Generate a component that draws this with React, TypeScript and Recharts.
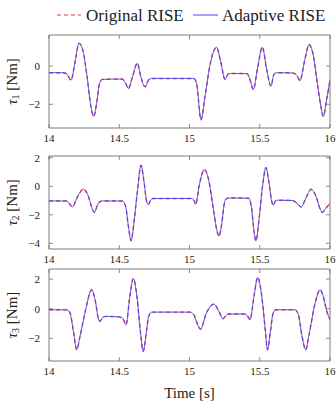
import React from "react";
import { LineChart, Line, XAxis, YAxis, ReferenceArea } from "recharts";

const timeTicks = [14, 14.5, 15, 15.5, 16];

const t1 = [14.0, 14.1, 14.125, 14.157, 14.185, 14.214, 14.24, 14.27, 14.3, 14.318, 14.34, 14.36, 14.38, 14.52, 14.545, 14.565, 14.595, 14.628, 14.655, 14.683, 14.71, 14.73, 15.03, 15.05, 15.082, 15.11, 15.15, 15.193, 15.22, 15.253, 15.275, 15.29, 15.41, 15.43, 15.454, 15.485, 15.518, 15.55, 15.58, 15.6, 15.62, 15.74, 15.765, 15.786, 15.82, 15.851, 15.88, 15.91, 15.935, 15.952, 15.975, 16.0];
const tau1 = [-0.35, -0.35, -0.4, -0.74, 0.2, 1.19, 0.85, -0.5, -2.2, -2.63, -1.9, -0.9, -0.7, -0.68, -0.9, -1.18, -0.55, 0.14, -0.6, -1.09, -0.72, -0.65, -0.65, -0.9, -2.81, -1.6, 0.2, 0.98, 0.3, -0.7, -0.42, -0.39, -0.4, -0.7, -1.23, -0.1, 0.98, -0.2, -1.05, -0.45, -0.35, -0.37, -0.5, -0.77, 0.3, 1.12, 0.6, -0.9, -2.1, -2.63, -1.8, -0.74];

const t2 = [14.0, 14.12, 14.14, 14.166, 14.2, 14.244, 14.28, 14.305, 14.323, 14.35, 14.38, 14.52, 14.545, 14.565, 14.584, 14.605, 14.63, 14.655, 14.675, 14.695, 14.707, 14.725, 14.74, 15.02, 15.032, 15.044, 15.07, 15.106, 15.135, 15.17, 15.195, 15.21, 15.23, 15.25, 15.265, 15.28, 15.42, 15.44, 15.46, 15.473, 15.495, 15.52, 15.544, 15.565, 15.585, 15.597, 15.61, 15.625, 15.73, 15.76, 15.794, 15.83, 15.865, 15.9, 15.93, 15.945, 15.97, 16.0];
const tau2 = [-1.03, -1.03, -1.15, -1.45, -0.8, -0.21, -0.7, -1.5, -1.84, -1.2, -1.03, -1.03, -1.4, -2.8, -3.82, -2.5, -0.3, 1.47, 0.4, -1.05, -1.28, -0.95, -0.86, -0.86, -1.0, -1.26, 0.1, 1.17, 0.5, -1.6, -3.1, -3.5, -2.6, -1.1, -0.85, -0.82, -0.84, -1.4, -3.2, -3.82, -2.3, 0.0, 1.31, 0.3, -1.05, -1.33, -1.05, -0.98, -1.0, -1.15, -1.45, -0.8, -0.21, -0.7, -1.6, -1.84, -1.55, -1.21];

const t3 = [14.0, 14.13, 14.15, 14.175, 14.197, 14.22, 14.26, 14.304, 14.33, 14.352, 14.363, 14.38, 14.4, 14.5, 14.525, 14.548, 14.575, 14.6, 14.625, 14.65, 14.671, 14.69, 14.71, 14.73, 15.0, 15.03, 15.055, 15.078, 15.12, 15.174, 15.21, 15.239, 15.265, 15.28, 15.39, 15.41, 15.431, 15.46, 15.485, 15.515, 15.54, 15.555, 15.575, 15.595, 15.615, 15.75, 15.775, 15.8, 15.827, 15.85, 15.89, 15.929, 15.95, 15.975, 16.0];
const tau3 = [-0.07, -0.08, -0.3, -1.6, -2.77, -1.9, -0.1, 1.28, 0.5, -0.7, -0.86, -0.6, -0.52, -0.55, -0.65, -1.08, 0.8, 2.03, 0.9, -1.5, -2.88, -1.8, -0.5, -0.23, -0.23, -0.4, -1.0, -1.38, -0.3, 0.31, -0.2, -0.68, -0.4, -0.36, -0.36, -0.45, -0.74, 0.9, 2.11, 0.8, -1.5, -2.77, -1.6, -0.3, -0.07, -0.07, -0.4, -1.8, -2.77, -1.8, 0.2, 1.28, 0.9, -0.1, -0.74];

// The two controllers' torques coincide at this scale.
const tau1Original = tau1, tau1Adaptive = tau1;
const tau2Original = tau2, tau2Adaptive = tau2;
const tau3Original = tau3, tau3Adaptive = tau3;

const rows = (t: number[], a: number[], b: number[]) =>
  t.map((x, i) => ({ t: x, orig: a[i], adapt: b[i] }));

const FONT = "'Liberation Serif', 'DejaVu Serif', serif";
const TXT: React.CSSProperties = { fontFamily: FONT };
const PLOT_LEFT = 49;
const PLOT_RIGHT = 330;
const W = 336;
const FRAME = "#6e6e6e";
const RED = "#f03a3a";
const BLUE = "#4646f5";

const fmt = (v: number) => (v < 0 ? "\u2212" + Math.abs(v) : String(v));

type PanelProps = {
  top: number;
  height: number;
  plotTop: number;
  plotBottom: number;
  data: any[];
  domain: [number, number];
  yTicks: number[];
  sub: string;
  showTime?: boolean;
};

function Panel({ top, height, plotTop, plotBottom, data, domain, yTicks, sub, showTime }: PanelProps) {
  const xTick = (props: any) => {
    const { x, payload } = props;
    return (
      <g>
        <line x1={x} x2={x} y1={plotBottom} y2={plotBottom - 4} stroke={FRAME} strokeWidth={0.8} />
        <line x1={x} x2={x} y1={plotTop} y2={plotTop + 4} stroke={FRAME} strokeWidth={0.8} />
        <text x={x} y={plotBottom + 10} textAnchor="middle" dominantBaseline="central" style={TXT} fontSize={11} fill="#222">
          {fmt(payload.value)}
        </text>
      </g>
    );
  };
  const yTick = (props: any) => {
    const { y, payload } = props;
    return (
      <g>
        <line x1={PLOT_LEFT} x2={PLOT_LEFT + 4} y1={y} y2={y} stroke={FRAME} strokeWidth={0.8} />
        <line x1={PLOT_RIGHT - 4} x2={PLOT_RIGHT} y1={y} y2={y} stroke={FRAME} strokeWidth={0.8} />
        <text x={40} y={y} textAnchor="end" dominantBaseline="central" style={TXT} fontSize={11} fill="#222">
          {fmt(payload.value)}
        </text>
      </g>
    );
  };
  const cy = (plotTop + plotBottom) / 2;
  return (
    <div style={{ position: "absolute", left: 0, top, width: W, height }}>
      <LineChart width={W} height={height} data={data} margin={{ top: plotTop, right: W - PLOT_RIGHT, left: 0, bottom: 0 }}>
        <XAxis
          dataKey="t"
          type="number"
          domain={[14, 16]}
          ticks={timeTicks}
          interval={0}
          height={height - plotBottom}
          axisLine={false}
          tickLine={false}
          tick={xTick}
          allowDataOverflow
          label={
            showTime
              ? {
                  content: () => (
                    <text x={(PLOT_LEFT + PLOT_RIGHT) / 2} y={plotBottom + 32} textAnchor="middle" dominantBaseline="central" style={TXT} fontSize={15} fill="#222">
                      Time [s]
                    </text>
                  ),
                }
              : undefined
          }
        />
        <YAxis
          type="number"
          domain={domain}
          ticks={yTicks}
          interval={0}
          width={PLOT_LEFT}
          axisLine={false}
          tickLine={false}
          tick={yTick}
          allowDataOverflow
          label={{
            content: () => (
              <text
                x={12}
                y={cy}
                transform={`rotate(-90, 12, ${cy})`}
                textAnchor="middle"
                dominantBaseline="central"
                style={TXT}
                fontSize={15}
                fill="#222"
              >
                <tspan fontStyle="italic">τ</tspan>
                <tspan fontSize={10} dy={3}>{sub}</tspan>
                <tspan dy={-3}> [Nm]</tspan>
              </text>
            ),
          }}
        />
        <Line type="monotone" dataKey="orig" stroke={RED} strokeWidth={1.4} strokeDasharray="4 3" dot={false} isAnimationActive={false} />
        <Line type="monotone" dataKey="adapt" stroke={BLUE} strokeWidth={0.9} dot={false} isAnimationActive={false} />
        <ReferenceArea x1={14} x2={16} y1={domain[0]} y2={domain[1]} fill="none" fillOpacity={0} stroke={FRAME} strokeWidth={0.9} ifOverflow="visible" />
      </LineChart>
    </div>
  );
}

export default function App() {
  return (
    <div style={{ position: "fixed", left: 0, top: 0, width: W, height: 401, background: "#fff", overflow: "hidden" }}>
      <svg width={W} height={30} style={{ position: "absolute", left: 0, top: 0 }}>
        <line x1={57} x2={81} y1={15} y2={15} stroke={RED} strokeWidth={1.2} strokeDasharray="4 3" />
        <text x={86} y={15} dominantBaseline="central" style={TXT} fontSize={17} fill="#222">Original RISE</text>
        <line x1={193} x2={218} y1={15} y2={15} stroke={BLUE} strokeWidth={1} />
        <text x={222} y={15} dominantBaseline="central" style={TXT} fontSize={17} fill="#222">Adaptive RISE</text>
      </svg>
      <Panel top={0} height={150} plotTop={35} plotBottom={128} data={rows(t1, tau1Original, tau1Adaptive)} domain={[-3.24, 1.62]} yTicks={[-2, 0]} sub="1" />
      <Panel top={140} height={130} plotTop={16} plotBottom={109} data={rows(t2, tau2Original, tau2Adaptive)} domain={[-4.4, 2.12]} yTicks={[-4, -2, 0, 2]} sub="2" />
      <Panel top={255} height={146} plotTop={14} plotBottom={106} data={rows(t3, tau3Original, tau3Adaptive)} domain={[-3.53, 2.68]} yTicks={[-2, 0, 2]} sub="3" showTime />
    </div>
  );
}
